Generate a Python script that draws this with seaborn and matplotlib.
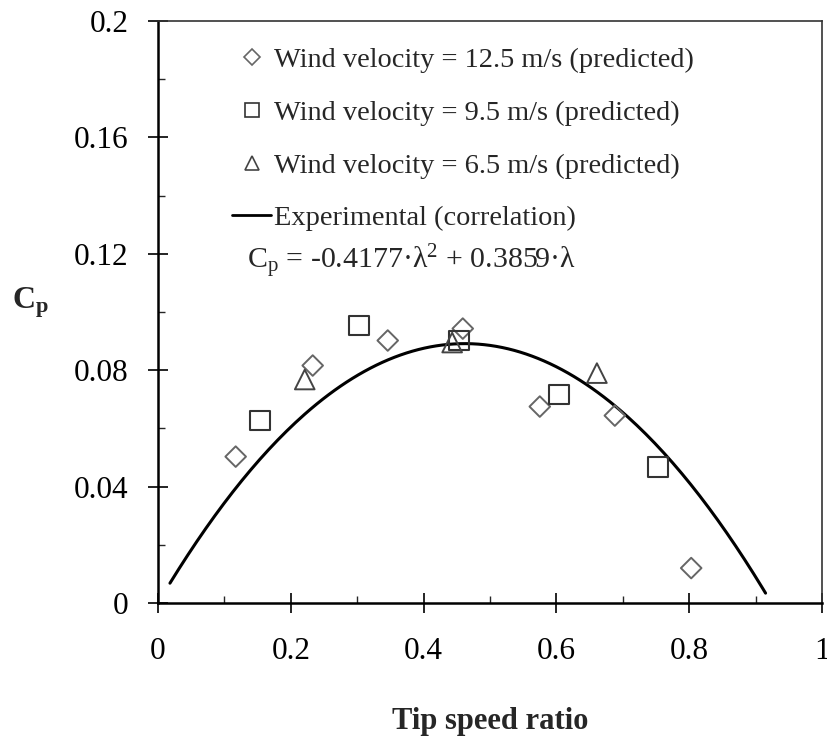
import numpy as np
import pandas as pd
import matplotlib
matplotlib.use("Agg")
import matplotlib.pyplot as plt
from matplotlib.lines import Line2D
from matplotlib.ticker import MultipleLocator
import seaborn as sns

# ---- data ----
tsr_125 = [0.117, 0.233, 0.346, 0.459, 0.575, 0.688, 0.803]
cp_125 = [0.0503, 0.0816, 0.0902, 0.0943, 0.0675, 0.0644, 0.0120]
tsr_95 = [0.154, 0.303, 0.453, 0.604, 0.753]
cp_95 = [0.0627, 0.0954, 0.0902, 0.0716, 0.0468]
tsr_65 = [0.221, 0.443, 0.661]
cp_65 = [0.0768, 0.0895, 0.0790]
coef_a = -0.4177
coef_b = 0.3859
lam_min, lam_max = 0.018, 0.915
x_ticks = [0, 0.2, 0.4, 0.6, 0.8, 1]
y_ticks = [0, 0.04, 0.08, 0.12, 0.16, 0.2]
labels = ["Wind velocity = 12.5 m/s (predicted)",
          "Wind velocity = 9.5 m/s (predicted)",
          "Wind velocity = 6.5 m/s (predicted)",
          "Experimental (correlation)"]

sns.set_style("ticks")
plt.rcParams['font.family'] = ['Liberation Serif', 'DejaVu Serif']
plt.rcParams['mathtext.fontset'] = 'custom'
plt.rcParams['mathtext.rm'] = 'Liberation Serif'
plt.rcParams['mathtext.it'] = 'Liberation Serif:italic'
plt.rcParams['mathtext.bf'] = 'Liberation Serif:bold'

fig = plt.figure(figsize=(8.27, 7.36), dpi=100)
ax = fig.add_axes([158/827, 1-603/736, (822-158)/827, (603-21)/736])

lam = np.linspace(lam_min, lam_max, 200)
curve = pd.DataFrame({"lam": lam, "cp": coef_a*lam**2 + coef_b*lam})
sns.lineplot(data=curve, x="lam", y="cp", ax=ax, color="black", lw=2.2)

sns.scatterplot(x=tsr_125, y=cp_125, ax=ax, marker="D", s=110,
                facecolors="none", edgecolors="#666666", linewidths=1.4, zorder=3)
sns.scatterplot(x=tsr_95, y=cp_95, ax=ax, marker="s", s=200,
                facecolors="none", edgecolors="#333333", linewidths=1.5, zorder=3)
sns.scatterplot(x=tsr_65, y=cp_65, ax=ax, marker="^", s=200,
                facecolors="none", edgecolors="#444444", linewidths=1.4, zorder=3)

ax.set_xlim(0, 1)
ax.set_ylim(0, 0.2)
ax.set_xticks(x_ticks)
ax.set_xticklabels([f"{v:g}" for v in x_ticks])
ax.set_yticks(y_ticks)
ax.set_yticklabels([f"{v:g}" for v in y_ticks])
ax.xaxis.set_minor_locator(MultipleLocator(0.1))
ax.yaxis.set_minor_locator(MultipleLocator(0.02))
ax.tick_params(which="major", direction="inout", length=14.4, width=1.2,
               labelsize=22.5, colors="black", right=False, top=False)
ax.tick_params(axis="x", which="major", pad=17)
ax.tick_params(axis="y", which="major", pad=14)
ax.tick_params(which="minor", direction="in", length=5, width=1.0,
               right=False, top=False)

for side in ["left", "bottom"]:
    ax.spines[side].set_linewidth(1.8)
    ax.spines[side].set_color("black")
for side in ["top", "right"]:
    ax.spines[side].set_visible(True)
    ax.spines[side].set_linewidth(1.2)
    ax.spines[side].set_color("#333333")

ax.set_xlabel("Tip speed ratio", fontsize=22, fontweight="bold", labelpad=30)
ax.set_ylabel("")
fig.text(30/827, 1-303/736, r"$\mathbf{C_p}$", fontsize=23, ha="center", va="center")

handles = [
    Line2D([], [], marker="D", ls="none", markerfacecolor="none",
           markeredgecolor="#666666", markersize=8, markeredgewidth=1.2),
    Line2D([], [], marker="s", ls="none", markerfacecolor="none",
           markeredgecolor="#333333", markersize=10.5, markeredgewidth=1.2),
    Line2D([], [], marker="^", ls="none", markerfacecolor="none",
           markeredgecolor="#444444", markersize=10, markeredgewidth=1.2),
    Line2D([], [], color="black", lw=2),
]
leg = ax.legend(handles, labels, loc="upper left", bbox_to_anchor=(0.111, 0.955),
                frameon=False, fontsize=20.4, handlelength=1.4, handletextpad=0.1,
                labelspacing=0.95, borderaxespad=0, borderpad=0)

ax.text((247-158)/664, (603-262)/581, r"C$_\mathregular{p}$ = -0.4177·λ$^\mathregular{2}$ + 0.3859·λ",
        transform=ax.transAxes, fontsize=21.5, ha="left", va="center")

fig.savefig("out.png", dpi=100)
